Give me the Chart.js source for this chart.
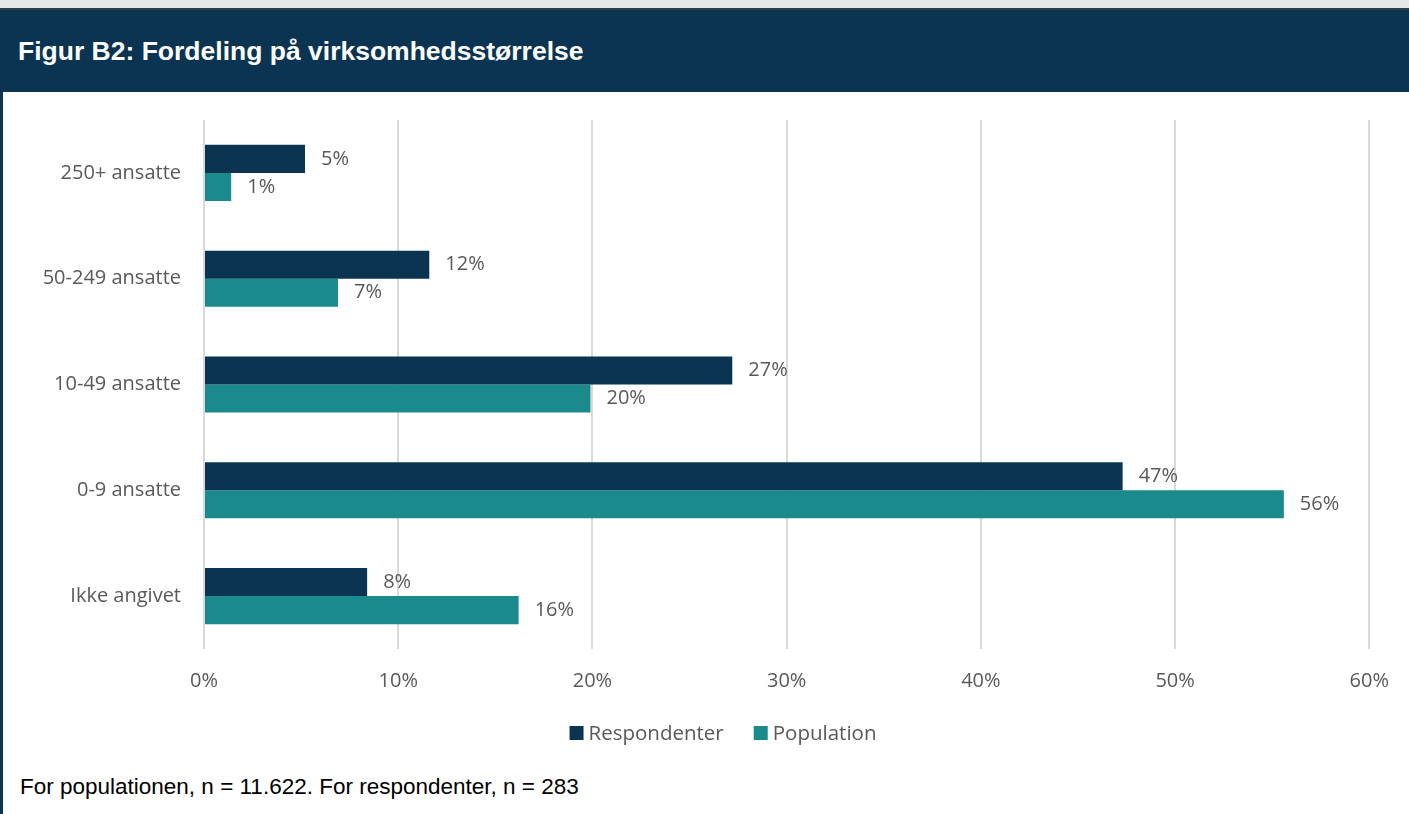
<!DOCTYPE html>
<html>
<head>
<meta charset="utf-8">
<script src="https://cdn.jsdelivr.net/npm/chart.js@4.4.1/dist/chart.umd.min.js"></script>
<style>
  html, body { margin: 0; padding: 0; background: #fff; width: 1409px; height: 814px; overflow: hidden; }
  #strip { position: absolute; left: 0; top: 0; width: 1409px; height: 8px; background: #e6e6e6;
    border-bottom: 2px solid #2f3b44; }
  #head { position: absolute; left: 0; top: 10px; width: 1409px; height: 82px; background: #0b3452;
    color: #fff; font: bold 26.5px "Liberation Sans", Arial, sans-serif; line-height: 82px; }
  #head span { padding-left: 18px; }
  #edge { position: absolute; left: 0; top: 92px; width: 3px; height: 722px; background: #0b3452; }
  #wrap { position: absolute; left: 0; top: 92px; width: 1409px; height: 662px; }
  #foot { position: absolute; left: 20px; top: 774px; font: 22.5px "Liberation Sans", Arial, sans-serif; color: #000; }
</style>
</head>
<body>
<div id="strip"></div>
<div id="head"><span>Figur B2: Fordeling på virksomhedsstørrelse</span></div>
<div id="edge"></div>
<div id="wrap"><canvas id="c"></canvas></div>
<div id="foot">For populationen, n = 11.622. For respondenter, n = 283</div>
<script>
"use strict";

const categories = ["250+ ansatte", "50-249 ansatte", "10-49 ansatte", "0-9 ansatte", "Ikke angivet"];
const respondenter = [5.2, 11.6, 27.2, 47.3, 8.4];
const population = [1.4, 6.9, 19.9, 55.6, 16.2];
const xTicks = [0, 10, 20, 30, 40, 50, 60];

const NAVY = "#0b3452", TEAL = "#1b8a8c", TXT = "#595959";
const FONT = '"Open Sans", "Noto Sans", sans-serif';

/* value labels just past the end of each bar */
const barLabels = {
  id: "barLabels",
  afterDatasetsDraw(chart) {
    const ctx = chart.ctx;
    ctx.save();
    ctx.font = "20px " + FONT;
    ctx.fillStyle = TXT;
    ctx.textAlign = "left";
    ctx.textBaseline = "middle";
    chart.data.datasets.forEach((ds, i) => {
      chart.getDatasetMeta(i).data.forEach((bar, j) => {
        ctx.fillText(Math.round(ds.data[j]) + "%", bar.x + 16, bar.y);
      });
    });
    ctx.restore();
  }
};

/* Excel-style legend: small square, tight gap to text, wide gap between
   items, centred a bit right of the canvas middle like the original */
const excelLegend = {
  id: "excelLegend",
  afterDraw(chart, args, opts) {
    const ctx = chart.ctx;
    ctx.save();
    ctx.font = "20.5px " + FONT;
    ctx.textBaseline = "middle";
    const items = chart.data.datasets.map((ds) => ({
      text: ds.label, color: ds.backgroundColor, w: 14 + 5 + ctx.measureText(ds.label).width }));
    const total = items.reduce((s, it) => s + it.w, 0) + 30 * (items.length - 1);
    let x = opts.centerX - total / 2;
    const y = chart.chartArea.bottom + opts.offsetY;
    items.forEach((it) => {
      ctx.fillStyle = it.color;
      ctx.fillRect(x, y - 7, 14, 14);
      ctx.fillStyle = TXT;
      ctx.fillText(it.text, x + 19, y + 1);
      x += it.w + 30;
    });
    ctx.restore();
  }
};

new Chart(document.getElementById("c"), {
  type: "bar",
  data: {
    labels: categories,
    datasets: [
      { label: "Respondenter", data: respondenter, backgroundColor: NAVY },
      { label: "Population", data: population, backgroundColor: TEAL },
    ]
  },
  options: {
    indexAxis: "y",
    responsive: true,
    maintainAspectRatio: false,
    animation: false,
    categoryPercentage: 0.53,
    barPercentage: 1,
    layout: { padding: { top: 28, right: 38, bottom: 0, left: 0 } },
    plugins: {
      tooltip: { enabled: false },
      legend: { display: false },
      excelLegend: { centerX: 723, offsetY: 84 }
    },
    scales: {
      x: {
        min: 0, max: 60,
        afterBuildTicks: (s) => { s.ticks = xTicks.map((v) => ({ value: v })); },
        afterFit: (s) => { s.height = 105; },
        grid: { color: "#d9d9d9", lineWidth: 2, drawTicks: false },
        border: { display: false },
        ticks: { padding: 20, color: TXT, font: { family: FONT, size: 20 },
                 callback: (v) => v + "%" }
      },
      y: {
        afterFit: (s) => { s.width = 204; s.paddingTop = 0; s.paddingBottom = 0; },
        grid: { display: false, drawTicks: false },
        border: { display: false },
        ticks: { padding: 23, color: TXT, font: { family: FONT, size: 20 } }
      }
    }
  },
  plugins: [barLabels, excelLegend]
});
</script>
</body>
</html>
